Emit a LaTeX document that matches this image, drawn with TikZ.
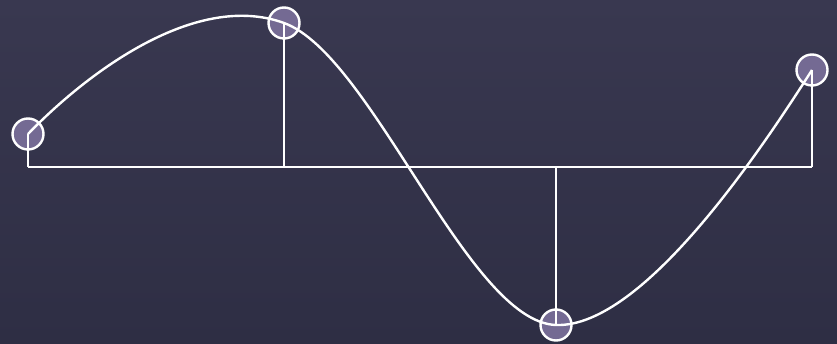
\documentclass[tikz,border=0pt]{standalone}
\begin{document}
\begin{tikzpicture}[x=1pt,y=-1pt,
  ln/.style={draw=white,line width=2.4pt},
  handle/.style={circle,draw=white,line width=2.4pt,fill=handlefill,minimum size=31pt,inner sep=0pt}]
\definecolor{bgtop}{RGB}{57,56,80}
\definecolor{bgbot}{RGB}{46,46,68}
\definecolor{handlefill}{RGB}{116,106,147}
\shade[top color=bgtop,bottom color=bgbot] (0,0) rectangle (837,344);
\useasboundingbox (0,0) rectangle (837,344);
\node[handle] (p0) at (28,134) {};
\node[handle] (p1) at (284,23) {};
\node[handle] (p2) at (556,325) {};
\node[handle] (p3) at (812,70) {};
\coordinate (b0) at (28,167);
\coordinate (b1) at (284,167);
\coordinate (b2) at (556,167);
\coordinate (b3) at (812,167);
\draw[ln] (b0) -- (b3);
\draw[ln] (p0.center) -- (b0);
\draw[ln] (p1.center) -- (b1);
\draw[ln] (p2.center) -- (b2);
\draw[ln] (p3.center) -- (b3);
\draw[ln] (p0.center) .. controls (88,72) and (196,-9) .. (p1.center)
  .. controls (372,55) and (468,322) .. (p2.center)
  .. controls (644,328) and (764,145) .. (p3.center);
\end{tikzpicture}
\end{document}
